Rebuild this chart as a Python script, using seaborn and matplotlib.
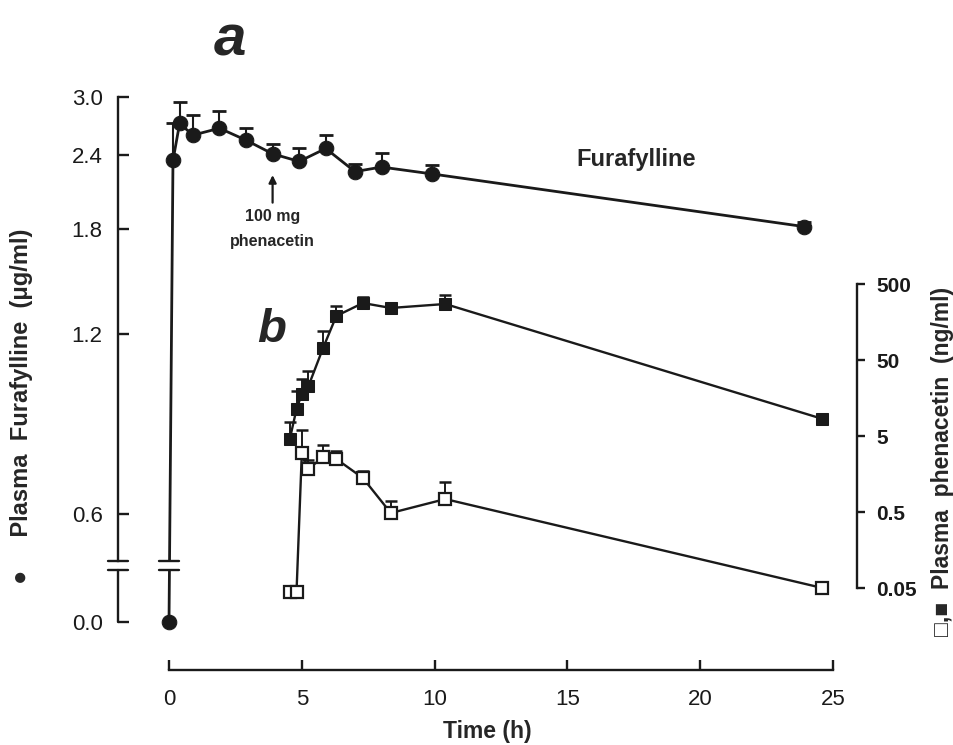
import numpy as np
import pandas as pd
import matplotlib
matplotlib.use("Agg")
import matplotlib.pyplot as plt
import seaborn as sns

# ---- data ----
# furafylline (left axis, ug/ml), upper SD only
fura_time = [0, 0.15, 0.4, 0.9, 1.9, 2.9, 3.9, 4.9, 5.9, 7.0, 8.0, 9.9, 23.9]
fura_conc = [0.0, 2.35, 2.71, 2.59, 2.66, 2.54, 2.41, 2.34, 2.46, 2.25, 2.29, 2.23, 1.82]
fura_sd = [0.0, 0.36, 0.23, 0.21, 0.18, 0.12, 0.09, 0.12, 0.13, 0.07, 0.13, 0.08, 0.03]

# phenacetin (right axis, ng/ml), filled and open squares
phen_time = [4.55, 4.8, 5.0, 5.25, 5.8, 6.3, 7.3, 8.35, 10.4, 24.6]
phen_filled = [4.6, 11.3, 17.9, 22.7, 72, 190, 281, 242, 273, 8.4]
phen_filled_sd = [3.0, 8.2, 10.1, 13.1, 48, 67, 57, 0, 85, 0]
phen_open = [0.044, 0.044, 3.0, 1.84, 2.65, 2.49, 1.4, 0.485, 0.74, 0.05]
phen_open_sd = [0, 0, 3.0, 0.6, 1.15, 0.7, 0.33, 0.22, 0.5, 0]

left_ticks = [0.0, 0.6, 1.2, 1.8, 2.4, 3.0]
left_ticklabels = ["0.0", "0.6", "1.2", "1.8", "2.4", "3.0"]
right_ticks = [0.05, 0.5, 5, 50, 500]
right_ticklabels = ["0.05", "0.5", "5", "50", "500"]
x_ticks = [0, 5, 10, 15, 20, 25]

# ---- broken log scale for furafylline: log above the break, 0 squeezed below ----
VB = 0.491
ZERO_T = np.log10(0.6) - 0.181
K = (np.log10(VB) - ZERO_T) / VB


def fwd(v):
    v = np.asarray(v, dtype=float)
    return np.where(v >= VB, np.log10(np.maximum(v, VB)), np.log10(VB) - (VB - v) * K)


def inv(t):
    t = np.asarray(t, dtype=float)
    return np.where(t >= np.log10(VB), 10 ** np.minimum(t, 10), VB - (np.log10(VB) - t) / K)


sns.set_theme(style="ticks")
plt.rcParams["font.family"] = ["Liberation Sans", "DejaVu Sans"]

W, H = 954, 745
fig = plt.figure(figsize=(W / 100, H / 100), dpi=100)
ax = fig.add_axes([118 / W, 75 / H, 739 / W, 580 / H])

ax.set_yscale("function", functions=(fwd, inv))
ax.set_xlim(-1.92, 25.9)
ax.set_ylim(-0.42, 3.083)

df_fura = pd.DataFrame({"t": fura_time, "c": fura_conc, "sd": fura_sd})
bars = df_fura[df_fura["sd"] > 0]
ax.vlines(bars["t"], bars["c"], bars["c"] + bars["sd"], color="k", lw=1.5, zorder=1.5)
ax.plot(bars["t"], bars["c"] + bars["sd"], ls="none", marker="_", ms=10, mew=2,
        color="k", zorder=1.5)
sns.lineplot(data=df_fura, x="t", y="c", ax=ax, color="k", lw=2, marker="o",
             markersize=10.5, markeredgecolor="k", errorbar=None, zorder=2)

# break on the data line and the axis
BRK_HI, BRK_LO = 0.50, 0.455
ax.fill_between([-0.3, 0.35], BRK_LO, BRK_HI, color="white", zorder=3, lw=0)
for yb in (BRK_LO, BRK_HI):
    ax.plot([-0.36, 0.36], [yb, yb], color="k", lw=1.7, zorder=4, clip_on=False)
    ax.plot([-0.0135, 0.0135], [yb, yb], color="k", lw=1.7, clip_on=False,
            transform=ax.get_yaxis_transform())
ax.spines["left"].set_bounds(BRK_HI, 3.0)
ax.plot([0, 0], [0, BRK_LO], color="k", lw=1.7, clip_on=False,
        transform=ax.get_yaxis_transform())

ax.spines["top"].set_visible(False)
ax.spines["right"].set_visible(False)
ax.spines["bottom"].set_bounds(0, 25)
for s in ("left", "bottom"):
    ax.spines[s].set_linewidth(1.7)
    ax.spines[s].set_color("k")

ax.set_yticks(left_ticks)
ax.set_yticklabels(left_ticklabels)
ax.yaxis.set_minor_locator(matplotlib.ticker.NullLocator())
ax.set_xticks(x_ticks)
ax.tick_params(axis="y", direction="in", length=8, width=1.7, pad=11, labelsize=16, colors="k")
ax.tick_params(axis="x", direction="in", length=7, width=1.7, pad=14, labelsize=16, colors="k")

ax.set_xlabel("Time (h)", fontsize=16.5, fontweight="bold", labelpad=7)
ax.set_ylabel("\u25cf     Plasma  Furafylline  (\u03bcg/ml)", fontsize=17, fontweight="bold")
ax.yaxis.set_label_coords(-0.115, 0.455)

ax.text(17.6, 2.36, "Furafylline", ha="center", va="center", fontsize=17, fontweight="bold")
ax.annotate("100 mg\nphenacetin", xy=(3.9, 2.22), xytext=(3.9, 1.95),
            ha="center", va="top", fontsize=11.5, fontweight="bold", linespacing=1.9,
            arrowprops=dict(arrowstyle="-|>", color="k", lw=1.6, mutation_scale=11,
                            shrinkA=2, shrinkB=0))
ax.text(0.152, 1.086, "a", transform=ax.transAxes, ha="center", va="center",
        fontsize=42, fontweight="bold", fontstyle="italic")
ax.text(0.208, 0.586, "b", transform=ax.transAxes, ha="center", va="center",
        fontsize=34, fontweight="bold", fontstyle="italic")

# ---- phenacetin on a log axis on the right ----
ax2 = ax.twinx()
ax2.set_yscale("log")
ax2.set_ylim(10 ** -2.38, 10 ** 5.252)

df_phen = pd.DataFrame({"t": phen_time, "filled": phen_filled, "filled_sd": phen_filled_sd,
                        "open": phen_open, "open_sd": phen_open_sd})
for col in ("filled", "open"):
    b = df_phen[df_phen[col + "_sd"] > 0]
    ax2.vlines(b["t"], b[col], b[col] + b[col + "_sd"], color="k", lw=1.4, zorder=1.5)
    ax2.plot(b["t"], b[col] + b[col + "_sd"], ls="none", marker="_", ms=9, mew=1.8,
             color="k", zorder=1.5)

sns.lineplot(data=df_phen, x="t", y="filled", ax=ax2, color="k", lw=1.7, marker="s",
             markersize=8.5, markeredgecolor="k", errorbar=None, zorder=2)
sns.lineplot(data=df_phen, x="t", y="open", ax=ax2, color="k", lw=1.7, marker="s",
             markersize=8, markerfacecolor="white", markeredgecolor="k",
             markeredgewidth=1.6, errorbar=None, zorder=2)

for s in ("top", "left", "bottom"):
    ax2.spines[s].set_visible(False)
ax2.spines["right"].set_bounds(0.05, 500)
ax2.spines["right"].set_linewidth(1.7)
ax2.spines["right"].set_color("k")
ax2.set_yticks(right_ticks)
ax2.set_yticklabels(right_ticklabels)
ax2.yaxis.set_minor_locator(matplotlib.ticker.NullLocator())
ax2.tick_params(axis="y", direction="out", length=6, width=1.7, pad=8, labelsize=15,
                colors="k")
for lab in ax2.get_yticklabels():
    lab.set_fontweight("bold")
ax2.set_ylabel("\u25a1,\u25a0  Plasma  phenacetin  (ng/ml)", fontsize=16.5, fontweight="bold",
               rotation=90)
ax2.yaxis.set_label_coords(1.1, 0.36)

fig.savefig("out.png", dpi=100)
